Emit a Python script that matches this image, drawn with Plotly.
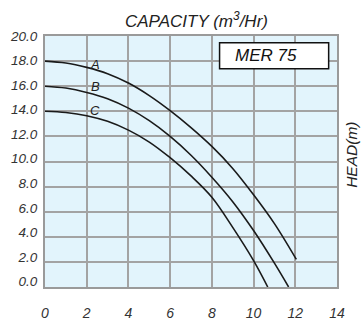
import plotly.graph_objects as go

# Data
cap_a = [0, 1, 2, 3, 4, 5, 6, 7, 8, 9, 10, 11, 12.05]
head_a = [18.0, 17.85, 17.5, 17.0, 16.25, 15.25, 14.05, 12.7, 11.2, 9.45, 7.35, 5.05, 2.2]
cap_b = [0, 1, 2, 3, 4, 5, 6, 7, 8, 9, 10, 11, 11.68]
head_b = [16.0, 15.85, 15.5, 15.0, 14.25, 13.25, 12.0, 10.5, 8.75, 6.8, 4.5, 1.9, 0.0]
cap_c = [0, 1, 2, 3, 4, 5, 6, 7, 8, 9, 10, 10.68]
head_c = [14.0, 13.9, 13.65, 13.2, 12.5, 11.55, 10.3, 8.85, 7.15, 4.75, 2.1, 0.0]
curve_names = ["A", "B", "C"]
label_pos = [(2.4, 17.75), (2.4, 16.0), (2.4, 14.1)]
x_ticks = [0, 2, 4, 6, 8, 10, 12, 14]
y_ticks = [0, 2, 4, 6, 8, 10, 12, 14, 16, 18, 20]
y_ticktext = ["<i>%.1f</i>" % v for v in y_ticks]
x_ticktext = ["<i>%d</i>" % v for v in x_ticks]
model_name = "MER 75"

FONT = "Liberation Sans, Arial, sans-serif"
fig = go.Figure()
for cx, hy in [(cap_a, head_a), (cap_b, head_b), (cap_c, head_c)]:
    fig.add_trace(go.Scatter(x=cx, y=hy, mode="lines", line=dict(color="#1a1a1a", width=1.6, shape="spline"),
                             showlegend=False, hoverinfo="skip"))
# invisible trace to carry the label axis
fig.add_trace(go.Scatter(x=[0], y=[0], yaxis="y2", mode="markers", marker=dict(opacity=0),
                         showlegend=False, hoverinfo="skip"))

for name, (lx, ly) in zip(curve_names, label_pos):
    fig.add_annotation(x=lx, y=ly, text="<i>%s</i>" % name, showarrow=False, xref="x", yref="y",
                       font=dict(family=FONT, size=13, color="#222"))

fig.add_shape(type="rect", xref="x", yref="y", x0=8.37, x1=13.6, y0=17.39, y1=19.47,
              line=dict(color="#111", width=1.5), fillcolor="white")
fig.add_annotation(x=10.6, y=18.43, xref="x", yref="y", text="<i>%s</i>" % model_name, showarrow=False,
                   font=dict(family=FONT, size=17, color="#111"))

fig.add_annotation(xref="paper", yref="paper", x=0.518, y=1.064, yanchor="middle", xanchor="center",
                   text="<i>CAPACITY (m<sup>3</sup>/Hr)</i>", showarrow=False,
                   font=dict(family=FONT, size=17, color="#222"))
fig.add_annotation(xref="paper", yref="paper", x=1.05, y=0.525, textangle=-90,
                   xanchor="center", yanchor="middle",
                   text="<i>HEAD(m)</i>", showarrow=False,
                   font=dict(family=FONT, size=15.5, color="#222"))

grid = "#a3a3a3"
fig.update_layout(
    width=361, height=322,
    margin=dict(l=45, r=24.3, t=36, b=35.3, autoexpand=False),
    paper_bgcolor="white", plot_bgcolor="#e2f4fc",
    xaxis=dict(range=[0, 14], tickvals=x_ticks, ticktext=x_ticktext, automargin=False,
               showgrid=True, gridcolor=grid, gridwidth=1.6, zeroline=False,
               showline=True, linecolor="#9a9a9a", linewidth=2, mirror=True,
               ticks="outside", ticklen=12, tickcolor="rgba(0,0,0,0)",
               tickfont=dict(family=FONT, size=14, color="#333", style="italic")),
    yaxis=dict(range=[0, 20], tickvals=y_ticks, showticklabels=False, automargin=False,
               showgrid=True, gridcolor=grid, gridwidth=1.6, zeroline=False,
               showline=True, linecolor="#9a9a9a", linewidth=2, mirror=True, ticks=""),
    yaxis2=dict(overlaying="y", side="left", range=[-0.46, 20.01], tickvals=y_ticks, ticktext=y_ticktext,
                automargin=False, showgrid=False, zeroline=False, showline=False,
                ticks="outside", ticklen=4, tickcolor="rgba(0,0,0,0)",
                tickfont=dict(family=FONT, size=13.5, color="#333", style="italic")),
)
fig.write_html("out.html")
